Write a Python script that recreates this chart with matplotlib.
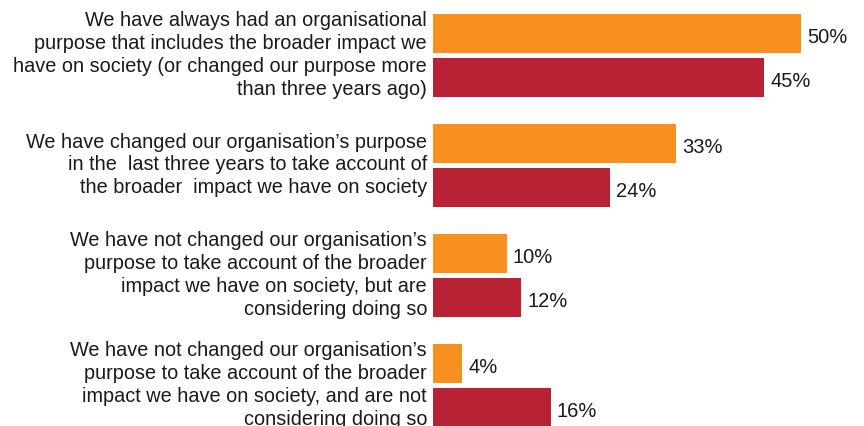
import matplotlib
matplotlib.use("Agg")
import matplotlib.pyplot as plt
from matplotlib.transforms import blended_transform_factory

plt.rcParams['font.family'] = ['Liberation Sans', 'DejaVu Sans']

categories = [
    "We have always had an organisational\npurpose that includes the broader impact we\nhave on society (or changed our purpose more\nthan three years ago)",
    "We have changed our organisation\u2019s purpose\nin the  last three years to take account of\nthe broader  impact we have on society",
    "We have not changed our organisation\u2019s\npurpose to take account of the broader\nimpact we have on society, but are\nconsidering doing so",
    "We have not changed our organisation\u2019s\npurpose to take account of the broader\nimpact we have on society, and are not\nconsidering doing so",
]
series_orange = [50, 33, 10, 4]
series_red = [45, 24, 12, 16]

ORANGE = "#F7901E"
RED = "#B92235"

W, H, DPI = 864, 426, 100
fig = plt.figure(figsize=(W / DPI, H / DPI), dpi=DPI)
left_px = 433
ax = fig.add_axes([left_px / W, 0, (W - left_px) / W, 1])

group_px = 110.0
offset = 22 / group_px
bar_h = 39 / group_px

ys = list(range(len(categories)))
ax.barh([y - offset for y in ys], series_orange, height=bar_h, color=ORANGE, linewidth=0)
ax.barh([y + offset for y in ys], series_red, height=bar_h, color=RED, linewidth=0)

ax.set_xlim(0, (W - left_px) / 368 * 50)
top = -55 / group_px
ax.set_ylim(top + H / group_px, top)
ax.axis("off")

for y, vo, vr in zip(ys, series_orange, series_red):
    for val, yy in ((vo, y - offset), (vr, y + offset)):
        ax.annotate(f"{val}%", xy=(val, yy), xytext=(4.3, -3.2), textcoords="offset points",
                    ha="left", va="center", fontsize=14.5, color="#1a1a1a")

trans = blended_transform_factory(ax.transAxes, ax.transData)
for y, label in zip(ys, categories):
    ax.text(-6 / (W - left_px), y, label, transform=trans, ha="right", va="center",
            multialignment="right", fontsize=14.3, color="#1a1a1a", linespacing=1.25,
            clip_on=False)

fig.savefig("out.png", dpi=DPI)
